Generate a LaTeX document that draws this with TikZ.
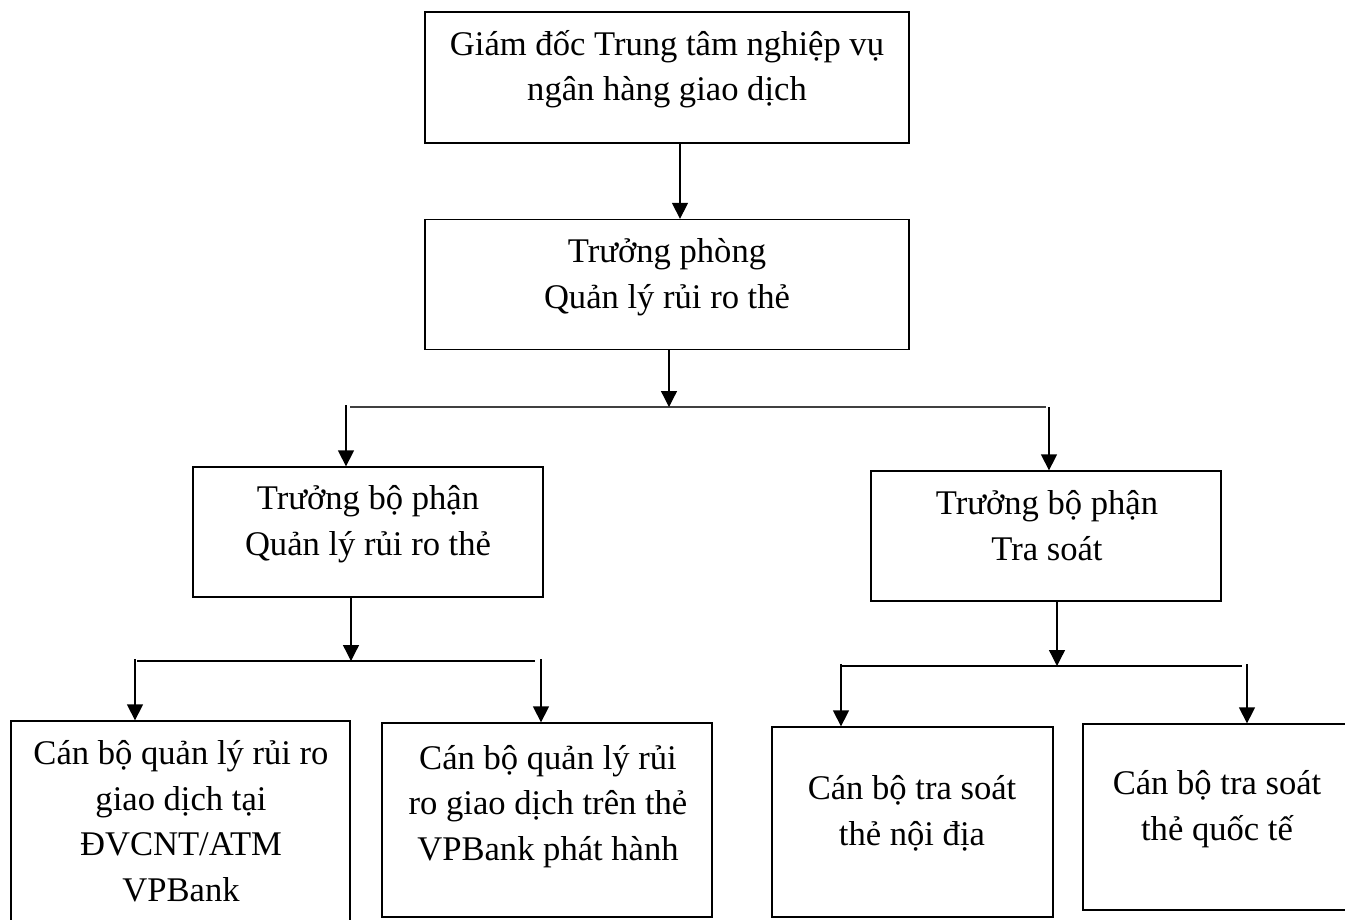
\documentclass[tikz,border=0pt]{standalone}
\usepackage{fontspec}
\setmainfont{Liberation Serif}
\usetikzlibrary{arrows.meta}
\tikzset{
  box/.style={draw=black, line width=1.3pt, rectangle, inner sep=0pt},
  txt/.style={anchor=base, align=center, inner sep=0pt, font=\fontsize{34.6}{45.5}\selectfont},
  arr/.style={line width=1.3pt, -{Triangle[length=16pt,width=16pt]}},
  bus/.style={line width=1.3pt},
  busthick/.style={line width=1.8pt, draw=black!75},
}
\begin{document}
\begin{tikzpicture}[x=1pt,y=-1pt]
\useasboundingbox (0,0) rectangle (1345,919);
\clip (0,0) rectangle (1345,919);
\fill[white] (0,0) rectangle (1345,919);
% boxes
\node[box, minimum width=484pt, minimum height=131pt] (b1) at (667,77.5) {};
\node[box, minimum width=484pt, minimum height=130pt] (b2) at (667,284.5) {};
\node[box, minimum width=350pt, minimum height=130pt] (b3) at (368,532) {};
\node[box, minimum width=350pt, minimum height=130pt] (b4) at (1046,536) {};
\node[box, minimum width=339pt, minimum height=229pt] (b5) at (180.5,835.5) {};
\node[box, minimum width=330pt, minimum height=194pt] (b6) at (547,820) {};
\node[box, minimum width=281pt, minimum height=190pt] (b7) at (912.5,822) {};
\node[box, minimum width=268pt, minimum height=186pt] (b8) at (1217,817) {};
% texts (base anchor = baseline of last line)
\node[txt] (t1) at (667,100.5) {Giám đốc Trung tâm nghiệp vụ\\ngân hàng giao dịch};
\node[txt] (t2) at (667,308) {Trưởng phòng\\Quản lý rủi ro thẻ};
\node[txt] (t3) at (368,555) {Trưởng bộ phận\\Quản lý rủi ro thẻ};
\node[txt] (t4) at (1047,560) {Trưởng bộ phận\\Tra soát};
\node[txt] (t5) at (181,901) {Cán bộ quản lý rủi ro\\giao dịch tại\\ĐVCNT/ATM\\VPBank};
\node[txt] (t6) at (548,860) {Cán bộ quản lý rủi\\ro giao dịch trên thẻ\\VPBank phát hành};
\node[txt] (t7) at (912,845) {Cán bộ tra soát\\thẻ nội địa};
\node[txt] (t8) at (1217,840) {Cán bộ tra soát\\thẻ quốc tế};
% junction coordinates
\coordinate (j1) at (669,407);
\coordinate (bl1) at (350,407);
\coordinate (br1) at (1046,407);
\coordinate (d1) at (346,405);
\coordinate (d2) at (1049,407);
\coordinate (j2) at (351,661);
\coordinate (bl2) at (137,661);
\coordinate (br2) at (535,661);
\coordinate (d3) at (135,659);
\coordinate (d4) at (541,659);
\coordinate (j3) at (1057,666);
\coordinate (bl3) at (842,666);
\coordinate (br3) at (1242,666);
\coordinate (d5) at (841,664);
\coordinate (d6) at (1247,664);
% connectors
\draw[arr] ([xshift=13pt]b1.south) -- ([xshift=13pt]b2.north);
\draw[busthick] (bl1) -- (br1);
\draw[arr] ([xshift=2pt]b2.south) -- (j1);
\draw[arr] (d1) -- (d1 |- b3.north);
\draw[arr] (d2) -- (d2 |- b4.north);
\draw[bus] (bl2) -- (br2);
\draw[arr] (j2 |- b3.south) -- (j2);
\draw[arr] (d3) -- (d3 |- b5.north);
\draw[arr] (d4) -- (d4 |- b6.north);
\draw[bus] (bl3) -- (br3);
\draw[arr] (j3 |- b4.south) -- (j3);
\draw[arr] (d5) -- (d5 |- b7.north);
\draw[arr] (d6) -- (d6 |- b8.north);
\end{tikzpicture}
\end{document}
